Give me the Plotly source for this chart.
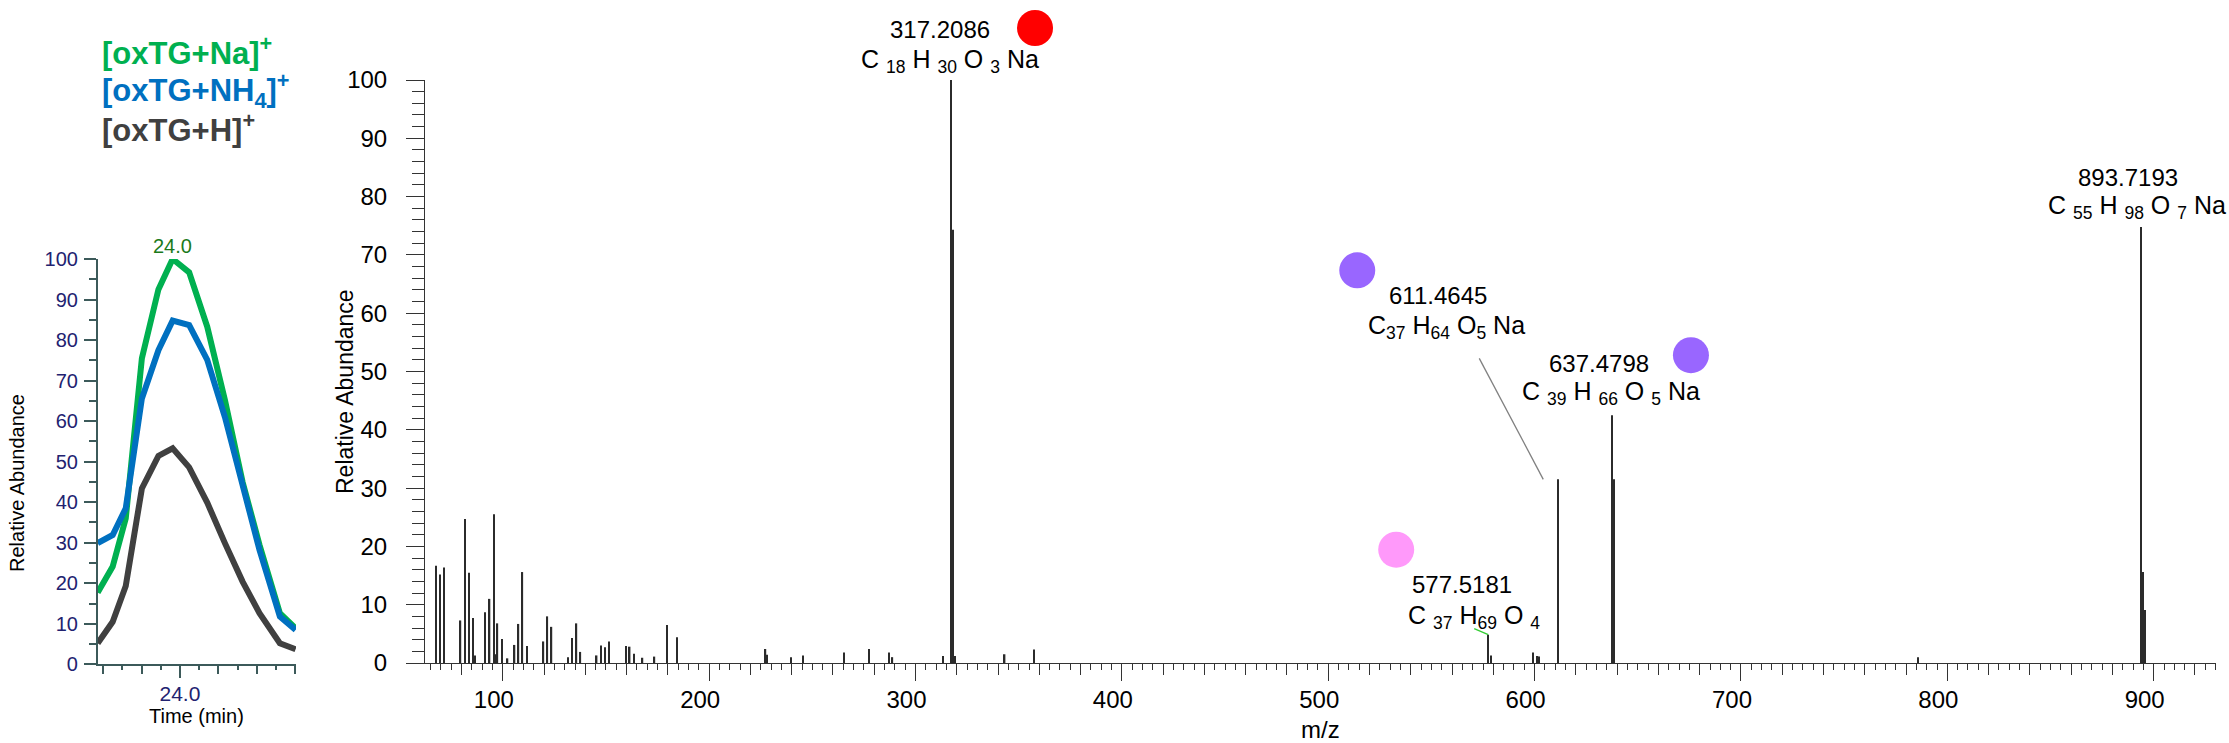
import plotly.graph_objects as go

W, H = 2229, 743

# ---------------- data ----------------
# mass spectrum (m/z, relative abundance)
mz = [67.7, 69.5, 71.6, 79.5, 81.6, 83.5, 85.5, 86.6, 91.4, 93.6, 95.6, 96.6, 97.4, 99.5,
      102.3, 105.7, 107.6, 109.5, 111.6, 119.7, 121.6, 123.6, 131.6, 133.6, 135.7, 137.6,
      145.5, 147.5, 149.6, 151.5, 159.6, 161.5, 163.5, 167.7, 173.5, 179.5, 184.5,
      227.3, 227.9, 239.7, 245.6, 265.3, 277.4, 287.3, 288.8, 313.3,
      317.2086, 318.21, 319.2, 343.2, 357.3,
      577.5181, 578.8, 599.3, 601.4, 602.2, 611.4645, 637.4798, 638.48,
      785.7, 893.7193, 894.72, 895.73]
intensity = [16.7, 15.2, 16.4, 7.3, 24.7, 15.5, 7.7, 1.3, 8.7, 11.0, 25.5, 1.5, 6.8, 4.1,
             0.8, 3.1, 6.7, 15.6, 2.9, 3.7, 8.0, 6.2, 1.0, 4.3, 6.8, 1.9,
             1.3, 3.0, 2.7, 3.7, 2.9, 2.8, 1.6, 0.9, 1.1, 6.5, 4.4,
             2.4, 1.4, 1.0, 1.3, 1.8, 2.4, 1.8, 1.0, 1.2,
             100.0, 74.3, 1.2, 1.5, 2.3,
             4.86, 1.3, 1.8, 1.2, 1.1, 31.5, 42.5, 31.5,
             1.0, 74.8, 15.6, 9.1]

# labelled peaks
peak_mz = [317.2086, 611.4645, 637.4798, 577.5181, 893.7193]
peak_mass_text = ["317.2086", "611.4645", "637.4798", "577.5181", "893.7193"]
peak_formula = ["C <sub>18</sub> H <sub>30</sub> O <sub>3</sub> Na",
                "C<sub>37</sub> H<sub>64</sub> O<sub>5</sub> Na",
                "C <sub>39</sub> H <sub>66</sub> O <sub>5</sub> Na",
                "C <sub>37</sub> H<sub>69</sub> O <sub>4</sub>",
                "C <sub>55</sub> H <sub>98</sub> O <sub>7</sub> Na"]
peak_class_color = ["#ff0000", "#9966ff", "#9966ff", "#ff99fa", None]

# extracted ion chromatograms (inset)
rt = [23.786, 23.825, 23.859, 23.901, 23.944, 23.981, 24.024, 24.071, 24.117, 24.163, 24.207, 24.260, 24.301]
xic_na = [17.7, 24.1, 36.0, 75.5, 92.5, 100.0, 96.7, 83.3, 65.2, 45.0, 29.5, 12.6, 8.9]
xic_nh4 = [29.9, 31.9, 38.5, 65.6, 77.5, 84.8, 83.7, 75.1, 61.0, 43.5, 28.2, 11.8, 8.5]
xic_h = [5.2, 10.5, 19.3, 43.4, 51.4, 53.3, 48.6, 39.9, 29.9, 20.4, 12.6, 5.2, 3.7]
apex_label = "24.0"
time_tick_vals = [24.0]
time_tick_text = ["24.0"]

legend_text = ["[oxTG+Na]<sup>+</sup>", "[oxTG+NH<sub>4</sub>]<sup>+</sup>", "[oxTG+H]<sup>+</sup>"]

# ---------------- styles ----------------
FONT = "Arial, 'Liberation Sans', sans-serif"
C_NA, C_NH4, C_H = "#00b050", "#0070c0", "#404040"
AX = "#333333"
INSET_AX = "#3c5a5a"
NAVY = "#222270"
Y_TOP = 100

# per labelled peak: pixel offsets (dx, dy up) for mass text, formula, circle; leader line
label_style = [
    dict(mass=(-11, 51), form=(-1, 19), circ=(84, 52), lead=None),
    dict(mass=(-120, 184), form=(-112, 152), circ=(-201, 209), lead=((-79, 121), (-15, 0), "#808080")),
    dict(mass=(-13, 52), form=(-1, 22), circ=(79, 60), lead=None),
    dict(mass=(-26, 50), form=(-14, 18), circ=(-92, 85), lead=((-14, 6), (0, 0), "#33cc33")),
    dict(mass=(-13, 49), form=(-4, 20), circ=None, lead=None),
]

fig = go.Figure()

fig.add_trace(go.Bar(x=mz, y=intensity, width=0.7, marker=dict(color="#2b2b2b", line=dict(width=0)),
                     xaxis="x", yaxis="y", showlegend=False, hoverinfo="x+y"))
# helper trace for the medium tick axis
fig.add_trace(go.Scatter(x=[], y=[], xaxis="x3", yaxis="y", showlegend=False))

for yv, col in [(xic_na, C_NA), (xic_nh4, C_NH4), (xic_h, C_H)]:
    fig.add_trace(go.Scatter(x=rt, y=yv, mode="lines", line=dict(color=col, width=6),
                             xaxis="x2", yaxis="y2", showlegend=False))
fig.add_trace(go.Scatter(x=[], y=[], xaxis="x4", yaxis="y2", showlegend=False))

MZ_RANGE = [62.3, 930.2]
RT_RANGE = [23.786, 24.302]

main_x_dom = [425 / W, 2216 / W]
main_y_dom = [(H - 663) / H, (H - 80) / H]
ins_x_dom = [97.7 / W, 296 / W]
ins_y_dom = [(H - 664.3) / H, (H - 259) / H]

fig.update_layout(
    template="none",
    width=W, height=H, margin=dict(l=0, r=0, t=0, b=0, autoexpand=False),
    paper_bgcolor="white", plot_bgcolor="white",
    font=dict(family=FONT, color="black"),
    xaxis=dict(domain=main_x_dom, range=MZ_RANGE, anchor="y", showline=True, linecolor=AX, linewidth=1,
               ticks="outside", ticklen=17, tickcolor=AX, tickwidth=1, tick0=0, dtick=100,
               minor=dict(ticks="outside", ticklen=6, tick0=0, dtick=5, tickcolor=AX, tickwidth=1),
               showgrid=False, zeroline=False, tickfont=dict(size=24, color="black"),
               ticklabelshift=-9, ticklabelstandoff=-2, automargin=False),
    xaxis3=dict(overlaying="x", anchor="y", range=MZ_RANGE, showline=False, showgrid=False, zeroline=False,
                ticks="outside", ticklen=11, tickcolor=AX, tickwidth=1, tick0=0, dtick=20,
                showticklabels=False, automargin=False),
    yaxis=dict(domain=main_y_dom, range=[0, Y_TOP], anchor="x", showline=True, linecolor=AX, linewidth=1,
               ticks="outside", ticklen=18, tickcolor=AX, tickwidth=1, tick0=0, dtick=10,
               minor=dict(ticks="outside", ticklen=12, tick0=0, dtick=2, tickcolor=AX, tickwidth=1),
               showgrid=False, zeroline=False, tickfont=dict(size=24, color="black"),
               ticklabelstandoff=14, automargin=False),
    xaxis2=dict(domain=ins_x_dom, range=RT_RANGE, anchor="y2", showline=True, linecolor=INSET_AX, linewidth=1.5,
                ticks="outside", ticklen=12, tickcolor=INSET_AX, tickwidth=1.5,
                tickmode="array", tickvals=time_tick_vals, ticktext=time_tick_text,
                minor=dict(ticks="outside", ticklen=4, tick0=23.8, dtick=0.05, tickcolor=INSET_AX, tickwidth=1.5),
                showgrid=False, zeroline=False, tickfont=dict(size=21, color=NAVY), ticklabelstandoff=-2,
                automargin=False),
    xaxis4=dict(overlaying="x2", anchor="y2", range=RT_RANGE, showline=False, showgrid=False, zeroline=False,
                ticks="outside", ticklen=9, tickcolor=INSET_AX, tickwidth=1.5, tick0=23.8, dtick=0.1,
                showticklabels=False, automargin=False),
    yaxis2=dict(domain=ins_y_dom, range=[0, 100], anchor="x2", showline=True, linecolor=INSET_AX, linewidth=1.5,
                ticks="outside", ticklen=12, tickcolor=INSET_AX, tickwidth=1.5, tick0=0, dtick=10,
                minor=dict(ticks="outside", ticklen=7, tick0=0, dtick=5, tickcolor=INSET_AX, tickwidth=1.5),
                showgrid=False, zeroline=False, tickfont=dict(size=20, color=NAVY), ticklabelstandoff=2,
                automargin=False),
)

ann = []
shapes = []
height_of = dict(zip(mz, intensity))
for pmz, mtxt, ftxt, ccol, st in zip(peak_mz, peak_mass_text, peak_formula, peak_class_color, label_style):
    pv = height_of[pmz]
    ann.append(dict(x=pmz, y=pv, xref="x", yref="y", text=mtxt, showarrow=False,
                    xshift=st["mass"][0], yshift=st["mass"][1], xanchor="center", yanchor="middle",
                    font=dict(size=24, color="black", family=FONT)))
    ann.append(dict(x=pmz, y=pv, xref="x", yref="y", text=ftxt, showarrow=False,
                    xshift=st["form"][0], yshift=st["form"][1], xanchor="center", yanchor="middle",
                    font=dict(size=25, color="black", family=FONT)))
    if ccol and st["circ"]:
        cx, cy = st["circ"]
        shapes.append(dict(type="circle", xref="x", yref="y domain", xsizemode="pixel", ysizemode="pixel",
                           xanchor=pmz, yanchor=pv / Y_TOP, x0=cx - 18, x1=cx + 18, y0=cy - 18, y1=cy + 18,
                           fillcolor=ccol, line=dict(width=0), layer="above"))
    if st["lead"]:
        (ax0, ay0), (ax1, ay1), lcol = st["lead"]
        shapes.append(dict(type="line", xref="x", yref="y domain", xsizemode="pixel", ysizemode="pixel",
                           xanchor=pmz, yanchor=pv / Y_TOP, x0=ax0, x1=ax1, y0=ay0, y1=ay1,
                           line=dict(color=lcol, width=1.3)))

# axis titles
ann.append(dict(x=0.5, y=(H - 729) / H, xref="x domain", yref="paper", text="m/z", showarrow=False,
                xanchor="center", yanchor="middle", font=dict(size=24, color="black")))
ann.append(dict(x=345 / W, y=(H - 392) / H, xref="paper", yref="paper", text="Relative Abundance",
                textangle=-90, showarrow=False, xanchor="center", yanchor="middle",
                font=dict(size=23, color="black")))
ann.append(dict(x=0.5, y=(H - 716) / H, xref="x2 domain", yref="paper", text="Time (min)", showarrow=False,
                xanchor="center", yanchor="middle", font=dict(size=20, color="black")))
ann.append(dict(x=17 / W, y=(H - 483) / H, xref="paper", yref="paper", text="Relative Abundance",
                textangle=-90, showarrow=False, xanchor="center", yanchor="middle",
                font=dict(size=20, color="black")))
# apex label
ann.append(dict(x=rt[xic_na.index(max(xic_na))], y=max(xic_na), xref="x2", yref="y2", text=apex_label,
                showarrow=False, yshift=13, xanchor="center", yanchor="middle",
                font=dict(size=20, color="#1b7a1b")))
# legend
for txt, col, yc in zip(legend_text, [C_NA, C_NH4, C_H], [51, 90, 128]):
    ann.append(dict(x=100 / W, y=(H - yc) / H, xref="paper", yref="paper", text="<b>" + txt + "</b>",
                    showarrow=False, xanchor="left", yanchor="middle", font=dict(size=31, color=col)))

fig.update_layout(annotations=ann, shapes=shapes)
fig.write_html("out.html", config={"displayModeBar": False},
               post_script="document.body.style.margin='0';document.body.style.padding='0';"
                           "document.body.style.overflow='hidden';")
